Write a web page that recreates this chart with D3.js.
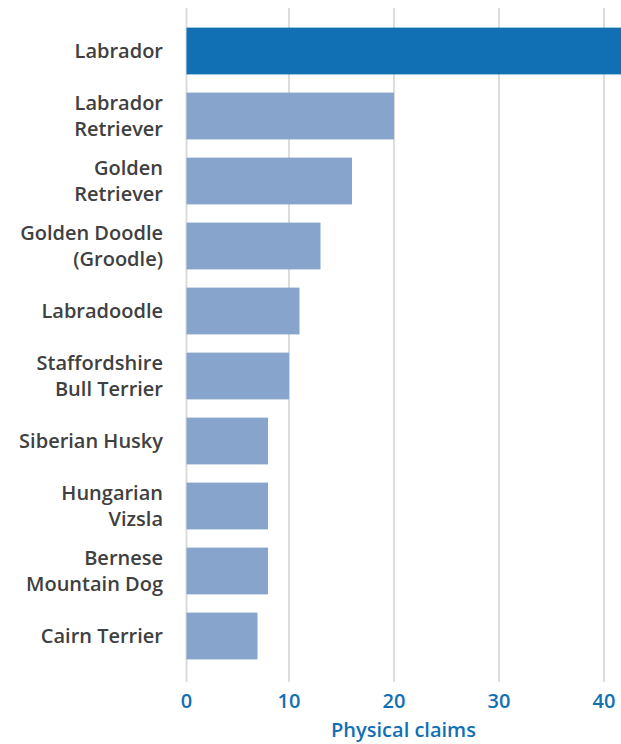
<!DOCTYPE html>
<html>
<head>
<meta charset="utf-8">
<script src="https://cdn.jsdelivr.net/npm/d3@7"></script>
<style>
  body { margin: 0; background: #fff; }
  text { font-family: "Open Sans", "Noto Sans", sans-serif; }
</style>
</head>
<body>
<div id="chart"></div>
<script>
(function(){
  const breeds = [
    ["Labrador"],
    ["Labrador", "Retriever"],
    ["Golden", "Retriever"],
    ["Golden Doodle", "(Groodle)"],
    ["Labradoodle"],
    ["Staffordshire", "Bull Terrier"],
    ["Siberian Husky"],
    ["Hungarian", "Vizsla"],
    ["Bernese", "Mountain Dog"],
    ["Cairn Terrier"]
  ];
  const claims = [45, 20, 16, 13, 11, 10, 8, 8, 8, 7];
  const xTicks = [0, 10, 20, 30, 40];
  const axisTitle = "Physical claims";

  const width = 621;
  const height = 744;
  const base = 186.5; // where bars (and the 0 line) start

  const svg = d3.select("#chart")
    .append("svg")
    .attr("width", width)
    .attr("height", height);

  const x = d3.scaleLinear()
    .domain([0, 40])
    .range([184, 604]);

  const xPos = d => d === 0 ? base : x(d);

  const y = d3.scaleBand()
    .domain(d3.range(breeds.length))
    .range([18.5, 668.5])
    .paddingInner(0.28)
    .paddingOuter(0.14);

  // gridlines
  svg.append("g")
    .selectAll("line")
    .data(xTicks)
    .enter().append("line")
    .attr("x1", xPos)
    .attr("x2", xPos)
    .attr("y1", 8)
    .attr("y2", 682)
    .attr("stroke", "#dcdcdc")
    .attr("stroke-width", 2);

  // bars
  svg.append("g")
    .selectAll("rect")
    .data(claims)
    .enter().append("rect")
    .attr("x", base)
    .attr("y", (d, i) => y(i))
    .attr("width", d => x(d) - base)
    .attr("height", y.bandwidth())
    .attr("fill", (d, i) => i === 0 ? "#1170b4" : "#87a4cd");

  // category labels
  const labels = svg.append("g")
    .selectAll("text")
    .data(breeds)
    .enter().append("text")
    .attr("text-anchor", "end")
    .attr("font-size", 20)
    .attr("font-weight", 600)
    .attr("fill", "#404040")
    .attr("transform", (d, i) => `translate(163, ${y(i) + y.bandwidth() / 2})`);

  labels.each(function(d) {
    const t = d3.select(this);
    const lh = 26;
    const start = -(d.length - 1) * lh / 2;
    d.forEach((line, j) => {
      t.append("tspan")
        .attr("x", 0)
        .attr("y", start + j * lh)
        .attr("dy", "0.35em")
        .text(line);
    });
  });

  // x axis tick labels
  svg.append("g")
    .selectAll("text")
    .data(xTicks)
    .enter().append("text")
    .attr("x", xPos)
    .attr("y", 708)
    .attr("text-anchor", "middle")
    .attr("font-size", 20)
    .attr("font-weight", 600)
    .attr("fill", "#1170b4")
    .text(d => d);

  svg.append("text")
    .attr("x", 403.5)
    .attr("y", 737)
    .attr("text-anchor", "middle")
    .attr("font-size", 20)
    .attr("font-weight", 600)
    .attr("fill", "#1170b4")
    .text(axisTitle);
})();
</script>
</body>
</html>
